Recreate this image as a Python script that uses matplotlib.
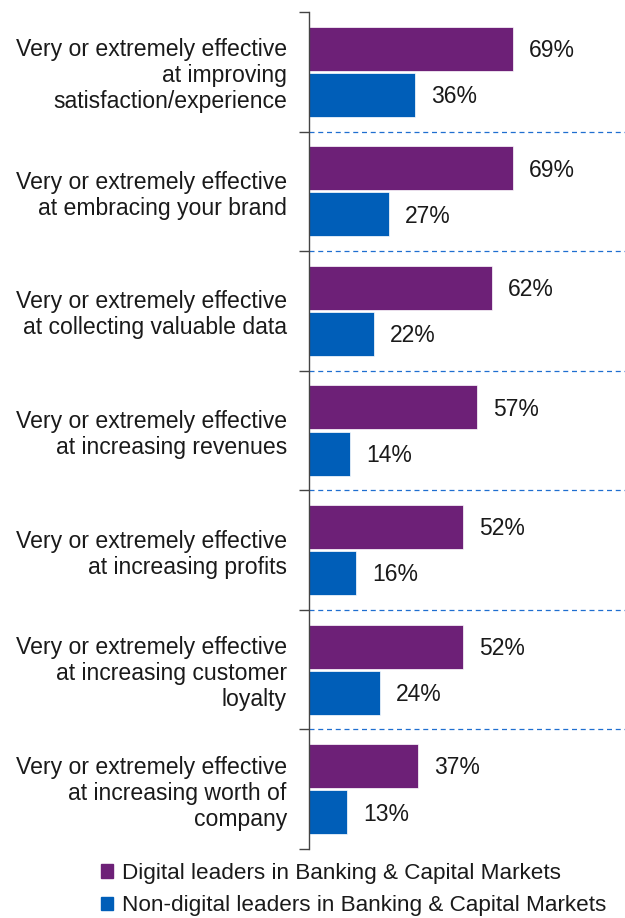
import matplotlib
matplotlib.use("Agg")
import matplotlib.pyplot as plt
from matplotlib.patches import Rectangle
import numpy as np

categories = [
    "Very or extremely effective\nat improving\nsatisfaction/experience",
    "Very or extremely effective\nat embracing your brand",
    "Very or extremely effective\nat collecting valuable data",
    "Very or extremely effective\nat increasing revenues",
    "Very or extremely effective\nat increasing profits",
    "Very or extremely effective\nat increasing customer\nloyalty",
    "Very or extremely effective\nat increasing worth of\ncompany",
]
digital = [69, 69, 62, 57, 52, 52, 37]
non_digital = [36, 27, 22, 14, 16, 24, 13]
series_names = ["Digital leaders in Banking & Capital Markets",
                "Non-digital leaders in Banking & Capital Markets"]

purple = "#6d2077"
blue = "#005eb8"
plt.rcParams['font.family'] = ['Liberation Sans', 'DejaVu Sans']

W, H = 625, 918
fig = plt.figure(figsize=(W/100, H/100), dpi=100)
left, right, top, bottom = 309, 625, 12, 849
ax = fig.add_axes([left/W, 1-bottom/H, (right-left)/W, (bottom-top)/H])

n = len(categories)
y = np.arange(n)
h = 0.368
off = 0.1925
ax.barh(y - off, digital, height=h, color=purple, edgecolor="white", linewidth=0.5)
ax.barh(y + off, non_digital, height=h, color=blue, edgecolor="white", linewidth=0.5)
for i in range(n):
    ax.text(digital[i] + 5.5, y[i] - off + 0.015, f"{digital[i]}%", va="center", ha="left",
            fontsize=16.5, color="#1a1a1a")
    ax.text(non_digital[i] + 5.5, y[i] + off + 0.015, f"{non_digital[i]}%", va="center", ha="left",
            fontsize=16.5, color="#1a1a1a")

for b in np.arange(0.5, n - 0.5, 1):
    ax.axhline(b, color="#1f6fd0", linestyle=(0, (4, 3)), linewidth=0.9)

ax.set_xlim(0, 107)
ax.set_ylim(n - 0.5, -0.5)
ax.set_yticks(y)
ax.set_yticklabels(categories, fontsize=16.6, color="#1a1a1a", linespacing=1.17)
ax.set_yticks(np.arange(-0.5, n, 1), minor=True)
ax.tick_params(axis="y", which="major", length=0, pad=16)
ax.tick_params(axis="y", which="minor", length=7, width=1, color="#444444")
ax.set_xticks([])
for s in ["top", "right", "bottom"]:
    ax.spines[s].set_visible(False)
ax.spines["left"].set_color("#444444")
ax.spines["left"].set_linewidth(1)

handles = [Rectangle((0, 0), 1, 1, color=purple), Rectangle((0, 0), 1, 1, color=blue)]
fig.legend(handles, series_names, loc="upper left", bbox_to_anchor=(101/W, 1 - 863/H),
           frameon=False, fontsize=16.2, handlelength=0.55, handleheight=0.55,
           handletextpad=0.4, labelspacing=0.5, borderpad=0, borderaxespad=0,
           labelcolor="#1a1a1a")

fig.savefig("out.png", dpi=100)
